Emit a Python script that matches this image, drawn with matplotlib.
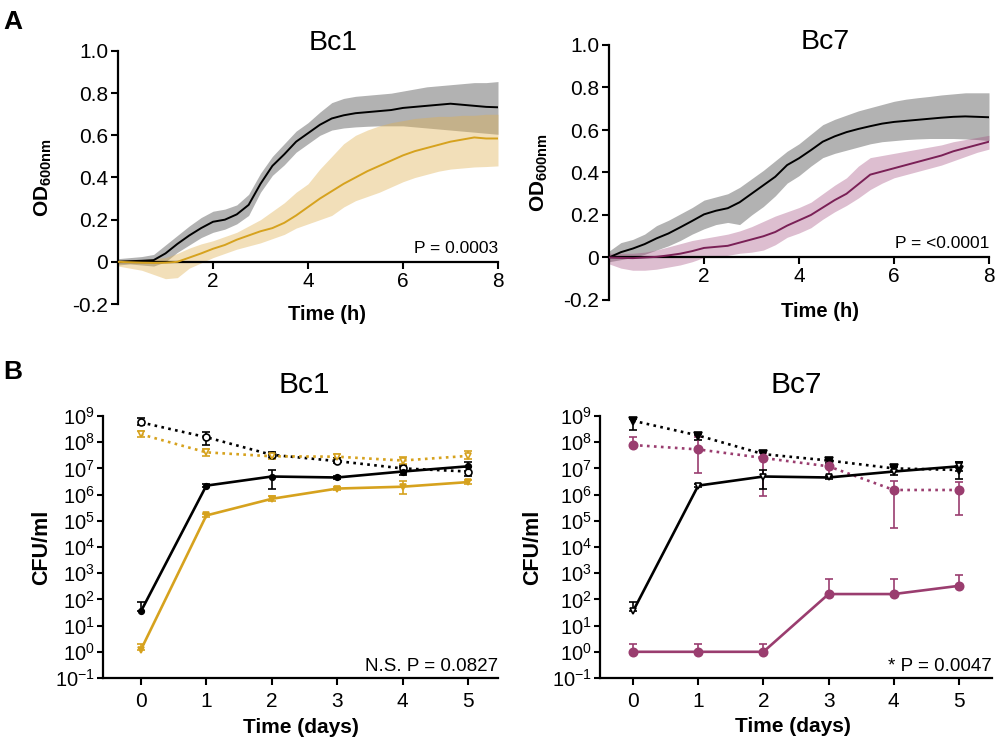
"""
Growth curves (OD600) and CFU counts for Bc1 / Bc7, panels A and B.
"""

import matplotlib
matplotlib.use("Agg")

import matplotlib.pyplot as plt

# ── fonts ────────────────────────────────────────────────────────────────
plt.rcParams["font.family"] = ["Liberation Sans", "DejaVu Sans"]
plt.rcParams["mathtext.fontset"] = "custom"
plt.rcParams["mathtext.rm"] = "Liberation Sans"
plt.rcParams["mathtext.bf"] = "Liberation Sans:bold"
plt.rcParams["mathtext.it"] = "Liberation Sans:italic"

# ── colours ──────────────────────────────────────────────────────────────
GOLD = "#D6A21E"
GOLD_BAND = "#E0B050"
GREY_BAND = "#7F7F7F"
PINK_LINE = "#7A2056"
PINK_BAND = "#A0457A"
PINK = "#9A3D6F"

# ── data: panel A (OD600 over time, mean with band) ─────────────────────
hours = [0, 0.25, 0.5, 0.75, 1, 1.25, 1.5, 1.75, 2, 2.25, 2.5, 2.75, 3,
         3.25, 3.5, 3.75, 4, 4.25, 4.5, 4.75, 5, 5.25, 5.5, 5.75, 6, 6.25,
         6.5, 6.75, 7, 7.25, 7.5, 7.75, 8]

bc1_ctrl_mean = [0.0, 0.003, 0.005, 0.008, 0.04, 0.085, 0.125, 0.16, 0.19,
                 0.20, 0.225, 0.27, 0.37, 0.455, 0.51, 0.57, 0.61, 0.65,
                 0.68, 0.695, 0.705, 0.71, 0.715, 0.72, 0.73, 0.735, 0.74,
                 0.745, 0.75, 0.745, 0.74, 0.735, 0.733]
bc1_ctrl_lo = [-0.015, -0.01, -0.015, -0.02, 0.0, 0.045, 0.08, 0.115, 0.14,
               0.155, 0.18, 0.22, 0.33, 0.41, 0.46, 0.52, 0.56, 0.60, 0.625,
               0.635, 0.64, 0.643, 0.645, 0.645, 0.645, 0.64, 0.635, 0.63,
               0.625, 0.62, 0.615, 0.61, 0.605]
bc1_ctrl_hi = [0.015, 0.02, 0.025, 0.035, 0.08, 0.125, 0.17, 0.21, 0.24,
               0.25, 0.27, 0.32, 0.42, 0.50, 0.56, 0.62, 0.66, 0.71, 0.755,
               0.775, 0.785, 0.79, 0.795, 0.80, 0.81, 0.82, 0.83, 0.835,
               0.84, 0.845, 0.85, 0.85, 0.855]

bc1_mut_mean = [0.0, -0.002, -0.004, -0.005, -0.004, 0.0, 0.02, 0.04, 0.062,
                0.08, 0.105, 0.125, 0.145, 0.16, 0.185, 0.22, 0.26, 0.30,
                0.335, 0.37, 0.40, 0.43, 0.455, 0.48, 0.505, 0.525, 0.54,
                0.555, 0.57, 0.58, 0.59, 0.585, 0.585]
bc1_mut_lo = [-0.02, -0.03, -0.04, -0.06, -0.08, -0.075, -0.03, -0.005, 0.02,
              0.04, 0.06, 0.075, 0.09, 0.11, 0.13, 0.16, 0.18, 0.20, 0.22,
              0.26, 0.29, 0.31, 0.33, 0.355, 0.38, 0.40, 0.415, 0.43, 0.44,
              0.445, 0.45, 0.452, 0.455]
bc1_mut_hi = [0.01, 0.01, 0.01, 0.015, 0.02, 0.04, 0.065, 0.085, 0.10, 0.12,
              0.14, 0.17, 0.20, 0.24, 0.28, 0.33, 0.37, 0.44, 0.50, 0.56,
              0.60, 0.625, 0.645, 0.66, 0.67, 0.68, 0.685, 0.69, 0.69,
              0.695, 0.695, 0.70, 0.70]

bc7_ctrl_mean = [0.0, 0.025, 0.042, 0.063, 0.09, 0.113, 0.142, 0.172, 0.203,
                 0.22, 0.232, 0.26, 0.30, 0.34, 0.38, 0.435, 0.467, 0.505,
                 0.545, 0.57, 0.59, 0.605, 0.618, 0.63, 0.638, 0.643, 0.648,
                 0.653, 0.658, 0.662, 0.664, 0.662, 0.66]
bc7_ctrl_lo = [-0.02, -0.01, 0.0, 0.015, 0.035, 0.055, 0.08, 0.11, 0.135,
               0.155, 0.165, 0.155, 0.20, 0.24, 0.29, 0.35, 0.385, 0.43,
               0.47, 0.49, 0.505, 0.52, 0.535, 0.545, 0.55, 0.555, 0.558,
               0.56, 0.56, 0.56, 0.558, 0.555, 0.55]
bc7_ctrl_hi = [0.03, 0.07, 0.085, 0.11, 0.15, 0.175, 0.205, 0.235, 0.27,
               0.285, 0.30, 0.33, 0.37, 0.41, 0.455, 0.50, 0.535, 0.58,
               0.625, 0.65, 0.67, 0.69, 0.705, 0.72, 0.735, 0.745, 0.752,
               0.758, 0.765, 0.77, 0.775, 0.775, 0.775]

bc7_mut_mean = [0.0, -0.002, -0.003, 0.0, 0.003, 0.01, 0.018, 0.03, 0.045,
                0.05, 0.055, 0.07, 0.085, 0.10, 0.12, 0.15, 0.175, 0.20,
                0.235, 0.27, 0.30, 0.345, 0.39, 0.405, 0.42, 0.435, 0.45,
                0.465, 0.48, 0.50, 0.515, 0.53, 0.545]
bc7_mut_lo = [-0.03, -0.05, -0.06, -0.06, -0.055, -0.045, -0.035, -0.02, 0.0,
              0.005, 0.01, 0.02, 0.025, 0.035, 0.06, 0.095, 0.115, 0.14,
              0.18, 0.215, 0.245, 0.28, 0.32, 0.35, 0.375, 0.39, 0.405,
              0.42, 0.435, 0.455, 0.475, 0.495, 0.51]
bc7_mut_hi = [0.02, 0.02, 0.02, 0.025, 0.035, 0.05, 0.065, 0.08, 0.09, 0.10,
              0.11, 0.125, 0.145, 0.17, 0.195, 0.215, 0.235, 0.26, 0.30,
              0.34, 0.375, 0.43, 0.47, 0.48, 0.49, 0.50, 0.51, 0.52, 0.53,
              0.545, 0.555, 0.565, 0.575]

# ── data: panel B (CFU/ml per day, mean with error bar ends) ────────────
days = [0, 1, 2, 3, 4, 5]

ctrl_solid = [35, 2.2e6, 4.9e6, 4.5e6, 7.6e6, 1.2e7]
ctrl_solid_hi = [83, 2.6e6, 8.7e6, 5.3e6, 1.1e7, 1.8e7]
ctrl_solid_lo = [35, 1.9e6, 1.7e6, 3.9e6, 5.4e6, 8.0e6]

bc1_ctrl_dot = [5.7e8, 1.55e8, 3.3e7, 1.9e7, 1.0e7, 7.6e6]
bc1_ctrl_dot_hi = [8.1e8, 2.4e8, 4.4e7, 2.4e7, 1.4e7, 1.1e7]
bc1_ctrl_dot_lo = [4.5e8, 8.0e7, 2.6e7, 1.6e7, 7.0e6, 5.0e6]

bc1_mut_dot = [2.0e8, 4.1e7, 2.9e7, 2.8e7, 2.0e7, 3.0e7]
bc1_mut_dot_hi = [2.6e8, 5.7e7, 3.6e7, 3.5e7, 2.7e7, 4.8e7]
bc1_mut_dot_lo = [1.6e8, 3.0e7, 2.3e7, 2.2e7, 1.5e7, 2.3e7]

bc1_mut_solid = [1.2, 1.6e5, 6.9e5, 1.7e6, 2.0e6, 3.0e6]
bc1_mut_solid_hi = [1.9, 1.8e5, 8.7e5, 2.0e6, 3.2e6, 3.5e6]
bc1_mut_solid_lo = [1.2, 1.4e5, 5.5e5, 1.45e6, 1.1e6, 2.6e6]

bc7_ctrl_dot = [6.6e8, 1.8e8, 3.5e7, 2.0e7, 1.0e7, 8.7e6]
bc7_ctrl_dot_hi = [7.5e8, 2.1e8, 4.2e7, 2.3e7, 1.2e7, 1.8e7]
bc7_ctrl_dot_lo = [2.9e8, 1.2e8, 2.5e7, 1.6e7, 8.0e6, 4.0e6]

bc7_mut_dot = [7.8e7, 5.3e7, 2.5e7, 1.2e7, 1.5e6, 1.5e6]
bc7_mut_dot_hi = [1.55e8, 1.55e8, 3.8e7, 2.0e7, 3.2e6, 3.0e6]
bc7_mut_dot_lo = [7.8e7, 6.9e6, 8.5e5, 4.9e6, 5.2e4, 1.6e5]

bc7_mut_solid = [1, 1, 1, 160, 160, 330]
bc7_mut_solid_hi = [2, 2, 2, 590, 590, 820]
bc7_mut_solid_lo = [1, 1, 1, 160, 160, 330]

log_ticks = [1e-1, 1e0, 1e1, 1e2, 1e3, 1e4, 1e5, 1e6, 1e7, 1e8, 1e9]
log_labels = [r"$\mathregular{10^{-1}}$"] + [
    r"$\mathregular{10^{%d}}$" % k for k in range(0, 10)]


# ── helpers ──────────────────────────────────────────────────────────────
def style_axes(ax):
    for side in ("top", "right"):
        ax.spines[side].set_visible(False)
    for side in ("left", "bottom"):
        ax.spines[side].set_linewidth(1.6)
    ax.tick_params(axis="both", direction="out", width=1.5, length=5,
                   labelsize=15, pad=2)


def growth_panel(ax, ctrl, mut, mut_line, mut_band, band_alpha, ptext):
    ax.fill_between(hours, ctrl[1], ctrl[2], color=GREY_BAND, alpha=0.6,
                    lw=0, zorder=1)
    ax.fill_between(hours, mut[1], mut[2], color=mut_band, alpha=band_alpha,
                    lw=0, zorder=2)
    ax.plot(hours, ctrl[0], color="black", lw=1.4, zorder=3)
    ax.plot(hours, mut[0], color=mut_line, lw=1.4, zorder=3)

    style_axes(ax)
    ax.set_xlim(0, 8)
    ax.set_ylim(-0.2, 1.0)
    ax.spines["bottom"].set_position(("data", 0))
    ax.spines["bottom"].set_bounds(0, 8)
    ax.set_xticks([2, 4, 6, 8])
    ax.set_yticks([-0.2, 0, 0.2, 0.4, 0.6, 0.8, 1.0])
    ax.set_yticklabels(["-0.2", "0", "0.2", "0.4", "0.6", "0.8", "1.0"])
    ax.set_xlabel("Time (h)", fontsize=14.5, fontweight="bold")
    ax.set_ylabel(r"$\mathbf{OD_{600nm}}$", fontsize=15)
    ax.text(1.0, 0.03, ptext, transform=ax.get_yaxis_transform(),
            ha="right", va="bottom", fontsize=12.5)


def cfu_series(ax, y, hi, lo, color, marker, ls, filled=True, ms=5):
    yerr = [[m - l for m, l in zip(y, lo)], [h - m for h, m in zip(hi, y)]]
    ax.errorbar(days, y, yerr=yerr, color=color, ls=ls, lw=1.9,
                marker=marker, ms=ms,
                mfc=color if filled else "white", mec=color, mew=1.2,
                ecolor=color, elinewidth=1.2, capsize=3, capthick=1.2,
                zorder=3, clip_on=False)


def cfu_panel(ax, xlim, ptext):
    style_axes(ax)
    ax.set_yscale("log")
    ax.set_ylim(1e-1, 1e9)
    ax.set_xlim(*xlim)
    ax.set_yticks(log_ticks)
    ax.set_yticklabels(log_labels)
    ax.minorticks_off()
    ax.tick_params(axis="y", labelsize=14.5, length=4, pad=2)
    ax.tick_params(axis="x", labelsize=15, length=5, pad=5)
    ax.set_xticks(days)
    ax.set_xlabel("Time (days)", fontsize=15, fontweight="bold")
    ax.set_ylabel("CFU/ml", fontsize=15.5, fontweight="bold")
    ax.text(1.0, 0.012, ptext, transform=ax.transAxes, ha="right",
            va="bottom", fontsize=13.5)


# ── figure ───────────────────────────────────────────────────────────────
fig = plt.figure(figsize=(10, 7.42), dpi=100)
W, H = 1000.0, 742.0


def add_axes_px(left, top, right, bottom):
    return fig.add_axes([left / W, 1 - bottom / H,
                         (right - left) / W, (bottom - top) / H])


ax_a1 = add_axes_px(118, 51, 498, 304)
ax_a2 = add_axes_px(609, 45, 989, 300)
ax_b1 = add_axes_px(103, 416, 498, 678)
ax_b2 = add_axes_px(600, 416, 992, 678)

growth_panel(ax_a1, (bc1_ctrl_mean, bc1_ctrl_lo, bc1_ctrl_hi),
             (bc1_mut_mean, bc1_mut_lo, bc1_mut_hi),
             GOLD, GOLD_BAND, 0.4, "P = 0.0003")
growth_panel(ax_a2, (bc7_ctrl_mean, bc7_ctrl_lo, bc7_ctrl_hi),
             (bc7_mut_mean, bc7_mut_lo, bc7_mut_hi),
             PINK_LINE, PINK_BAND, 0.35, "P = <0.0001")

# Bc1 CFU
cfu_series(ax_b1, bc1_ctrl_dot, bc1_ctrl_dot_hi, bc1_ctrl_dot_lo,
           "black", "o", ":", filled=False, ms=5)
cfu_series(ax_b1, bc1_mut_dot, bc1_mut_dot_hi, bc1_mut_dot_lo,
           GOLD, "v", ":", filled=False, ms=5)
cfu_series(ax_b1, ctrl_solid, ctrl_solid_hi, ctrl_solid_lo,
           "black", "o", "-", ms=4)
cfu_series(ax_b1, bc1_mut_solid, bc1_mut_solid_hi, bc1_mut_solid_lo,
           GOLD, "v", "-", ms=5)
cfu_panel(ax_b1, (-0.58, 5.46), "N.S. P = 0.0827")

# Bc7 CFU
cfu_series(ax_b2, bc7_ctrl_dot, bc7_ctrl_dot_hi, bc7_ctrl_dot_lo,
           "black", "v", ":", ms=6)
cfu_series(ax_b2, bc7_mut_dot, bc7_mut_dot_hi, bc7_mut_dot_lo,
           PINK, "o", ":", ms=6)
cfu_series(ax_b2, ctrl_solid, ctrl_solid_hi, ctrl_solid_lo,
           "black", "v", "-", filled=False, ms=5)
cfu_series(ax_b2, bc7_mut_solid, bc7_mut_solid_hi, bc7_mut_solid_lo,
           PINK, "o", "-", ms=6)
cfu_panel(ax_b2, (-0.506, 5.506), "* P = 0.0047")

# ── label placement ──────────────────────────────────────────────────────
ax_a1.yaxis.set_label_coords(-0.168, 0.5)
ax_a2.yaxis.set_label_coords(-0.155, 0.5)
ax_b1.yaxis.set_label_coords(-0.129, 0.5)
ax_b2.yaxis.set_label_coords(-0.145, 0.5)
ax_a1.xaxis.set_label_coords(0.551, -0.004)
ax_a2.xaxis.set_label_coords(0.554, -0.008)
ax_b1.xaxis.set_label_coords(0.50, -0.153)
ax_b2.xaxis.set_label_coords(0.491, -0.149)

# titles and panel letters (pixel positions)
for txt, x, y, fs in [("Bc1", 333, 43, 20.5), ("Bc7", 825, 42, 20.5),
                      ("Bc1", 304, 385, 21.5), ("Bc7", 796, 385, 21.5)]:
    fig.text(x / W, 1 - y / H, txt, ha="center", va="center", fontsize=fs)
fig.text(13 / W, 1 - 22 / H, "A", ha="center", va="center", fontsize=19,
         fontweight="bold")
fig.text(13 / W, 1 - 372 / H, "B", ha="center", va="center", fontsize=19,
         fontweight="bold")

fig.savefig("out.png", dpi=100)
